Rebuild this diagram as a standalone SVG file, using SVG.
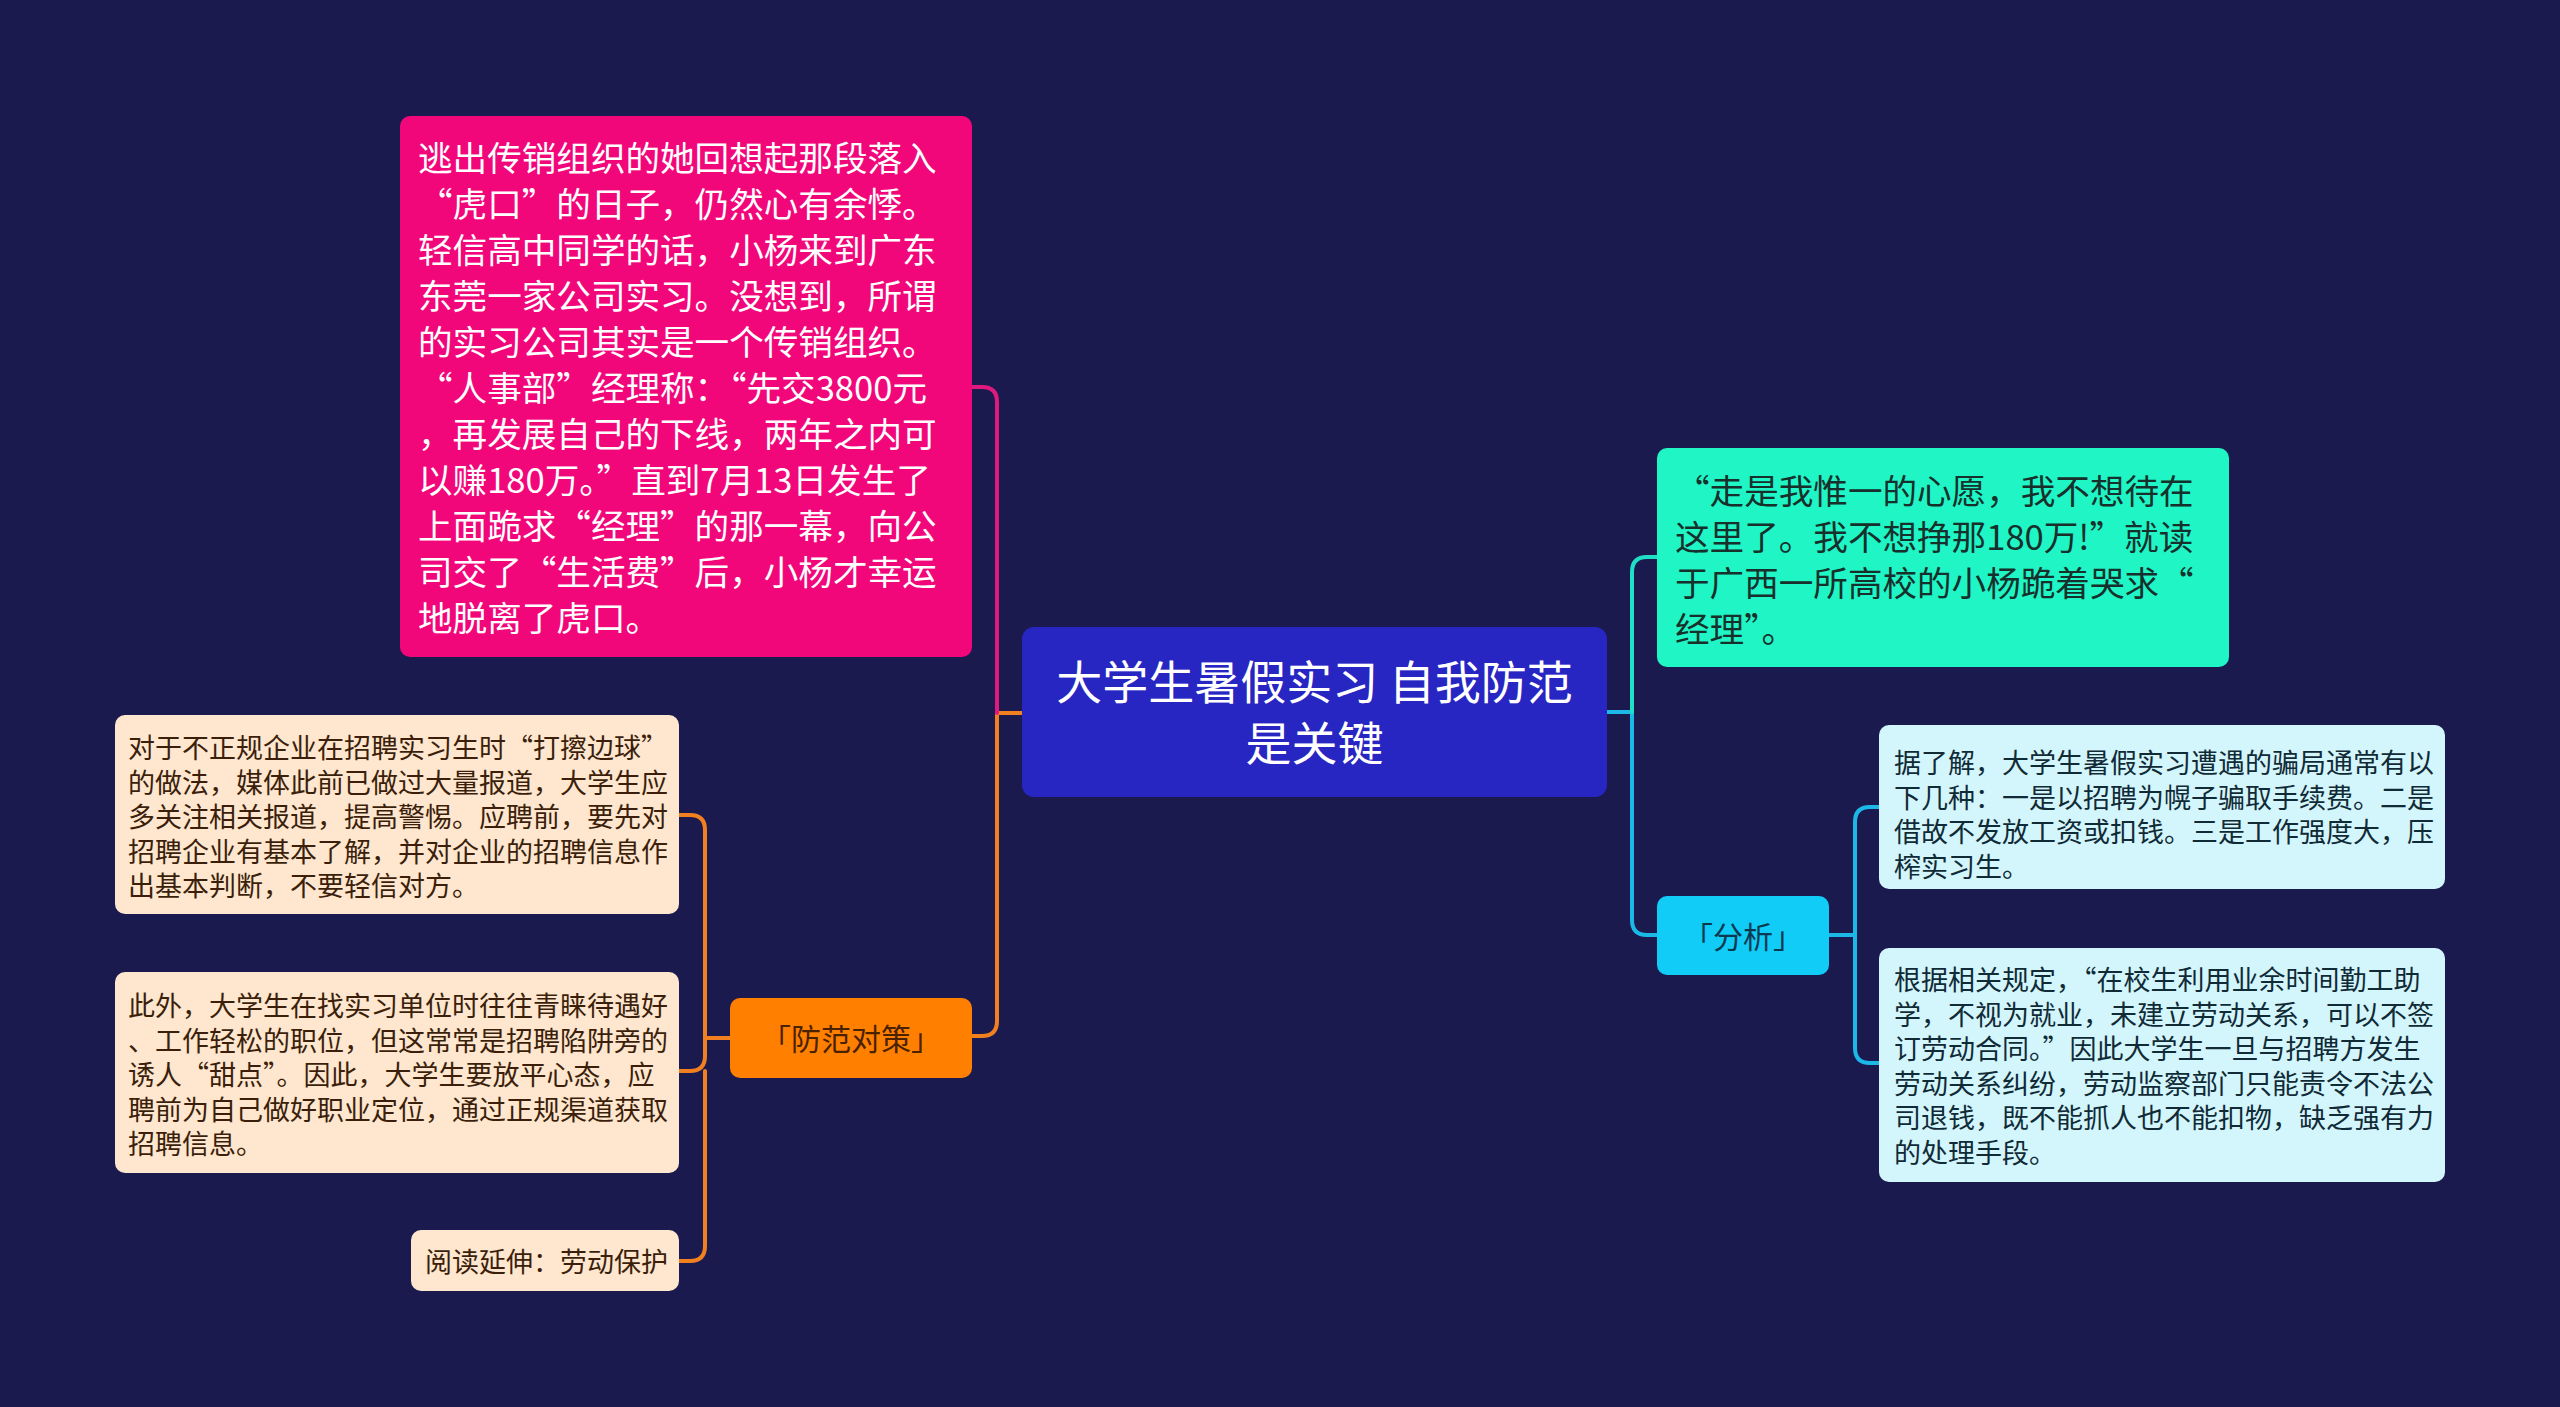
<svg xmlns="http://www.w3.org/2000/svg" width="2560" height="1407" viewBox="0 0 2560 1407">
<style>
text{font-family:"Noto Sans CJK SC","Noto Sans",sans-serif;}
.l{fill:none;stroke-width:4;stroke-linecap:round;stroke-linejoin:round;}
.big{font-size:34.6px;}
.sm{font-size:27px;}
</style>
<rect width="2560" height="1407" fill="#1b1a4f"/>
<g id="connectors">
<path class="l" stroke="#f08020" d="M1022,713 H997 V1021 Q997,1036 982,1036 H971"/>
<path class="l" stroke="#de1a7e" d="M997,713 V402 Q997,387 982,387 H971"/>
<path class="l" stroke="#1cb9e8" d="M1607,712 H1632 V920 Q1632,935 1647,935 H1657"/>
<path class="l" stroke="#1fe0c4" d="M1632,712 V572 Q1632,557 1647,557 H1657"/>
<path class="l" stroke="#1cb9e8" d="M1829,935 H1855 V822 Q1855,807 1870,807 H1879"/>
<path class="l" stroke="#1cb9e8" d="M1855,935 V1048 Q1855,1063 1870,1063 H1879"/>
<path class="l" stroke="#f08020" d="M730,1038 H705 V830 Q705,815 690,815 H679"/>
<path class="l" stroke="#f08020" d="M705,1038 V1056 Q705,1071 690,1071 H679"/>
<path class="l" stroke="#f08020" d="M705,1071 V1246 Q705,1261 690,1261 H679"/>
</g>
<g id="root">
<rect x="1022" y="627" width="585" height="170" rx="12" fill="#2826c2"/>
<text x="1314.5" y="699" font-size="46" fill="#ffffff" text-anchor="middle">大学生暑假实习 自我防范</text>
<text x="1314.5" y="760" font-size="46" fill="#ffffff" text-anchor="middle">是关键</text>
</g>
<g id="story">
<rect x="400" y="116" width="572" height="541" rx="10" fill="#f2077b"/>
<text class="big" fill="#ffffff">
<tspan x="418" y="171">逃出传销组织的她回想起那段落入</tspan>
<tspan x="418" y="217">“虎口”的日子，仍然心有余悸。</tspan>
<tspan x="418" y="263">轻信高中同学的话，小杨来到广东</tspan>
<tspan x="418" y="309">东莞一家公司实习。没想到，所谓</tspan>
<tspan x="418" y="355">的实习公司其实是一个传销组织。</tspan>
<tspan x="418" y="401">“人事部”经理称：“先交3800元</tspan>
<tspan x="418" y="447">，再发展自己的下线，两年之内可</tspan>
<tspan x="418" y="493">以赚180万。”直到7月13日发生了</tspan>
<tspan x="418" y="539">上面跪求“经理”的那一幕，向公</tspan>
<tspan x="418" y="585">司交了“生活费”后，小杨才幸运</tspan>
<tspan x="418" y="631">地脱离了虎口。</tspan>
</text>
</g>
<g id="quote">
<rect x="1657" y="448" width="572" height="219" rx="10" fill="#1ff5c5"/>
<text class="big" fill="#17302c">
<tspan x="1675" y="504">“走是我惟一的心愿，我不想待在</tspan>
<tspan x="1675" y="550">这里了。我不想挣那180万!”就读</tspan>
<tspan x="1675" y="596">于广西一所高校的小杨跪着哭求“</tspan>
<tspan x="1675" y="642">经理”。</tspan>
</text>
</g>
<g id="analysis">
<rect x="1657" y="896" width="172" height="79" rx="10" fill="#10ccf6"/>
<text x="1743" y="948" font-size="30" fill="#0b3a50" text-anchor="middle">「分析」</text>
</g>
<g id="analysis-1">
<rect x="1879" y="725" width="566" height="164" rx="10" fill="#d3f5fc"/>
<text class="sm" fill="#102a36">
<tspan x="1894" y="773">据了解，大学生暑假实习遭遇的骗局通常有以</tspan>
<tspan x="1894" y="807.5">下几种：一是以招聘为幌子骗取手续费。二是</tspan>
<tspan x="1894" y="842">借故不发放工资或扣钱。三是工作强度大，压</tspan>
<tspan x="1894" y="876.5">榨实习生。</tspan>
</text>
</g>
<g id="analysis-2">
<rect x="1879" y="948" width="566" height="234" rx="10" fill="#d3f5fc"/>
<text class="sm" fill="#102a36">
<tspan x="1894" y="990">根据相关规定，“在校生利用业余时间勤工助</tspan>
<tspan x="1894" y="1024.5">学，不视为就业，未建立劳动关系，可以不签</tspan>
<tspan x="1894" y="1059">订劳动合同。”因此大学生一旦与招聘方发生</tspan>
<tspan x="1894" y="1093.5">劳动关系纠纷，劳动监察部门只能责令不法公</tspan>
<tspan x="1894" y="1128">司退钱，既不能抓人也不能扣物，缺乏强有力</tspan>
<tspan x="1894" y="1162.5">的处理手段。</tspan>
</text>
</g>
<g id="prevention">
<rect x="730" y="998" width="242" height="80" rx="10" fill="#ff7f00"/>
<text x="851" y="1050" font-size="30" fill="#4a2200" text-anchor="middle">「防范对策」</text>
</g>
<g id="prevention-1">
<rect x="115" y="715" width="564" height="199" rx="10" fill="#fee6cf"/>
<text class="sm" fill="#3b1f0a">
<tspan x="128" y="758">对于不正规企业在招聘实习生时“打擦边球”</tspan>
<tspan x="128" y="792.5">的做法，媒体此前已做过大量报道，大学生应</tspan>
<tspan x="128" y="827">多关注相关报道，提高警惕。应聘前，要先对</tspan>
<tspan x="128" y="861.5">招聘企业有基本了解，并对企业的招聘信息作</tspan>
<tspan x="128" y="896">出基本判断，不要轻信对方。</tspan>
</text>
</g>
<g id="prevention-2">
<rect x="115" y="972" width="564" height="201" rx="10" fill="#fee6cf"/>
<text class="sm" fill="#3b1f0a">
<tspan x="128" y="1016">此外，大学生在找实习单位时往往青睐待遇好</tspan>
<tspan x="128" y="1050.5">、工作轻松的职位，但这常常是招聘陷阱旁的</tspan>
<tspan x="128" y="1085">诱人“甜点”。因此，大学生要放平心态，应</tspan>
<tspan x="128" y="1119.5">聘前为自己做好职业定位，通过正规渠道获取</tspan>
<tspan x="128" y="1154">招聘信息。</tspan>
</text>
</g>
<g id="prevention-3">
<rect x="411" y="1230" width="268" height="61" rx="10" fill="#fee6cf"/>
<text class="sm" x="425" y="1272" fill="#3b1f0a">阅读延伸：劳动保护</text>
</g>
</svg>
